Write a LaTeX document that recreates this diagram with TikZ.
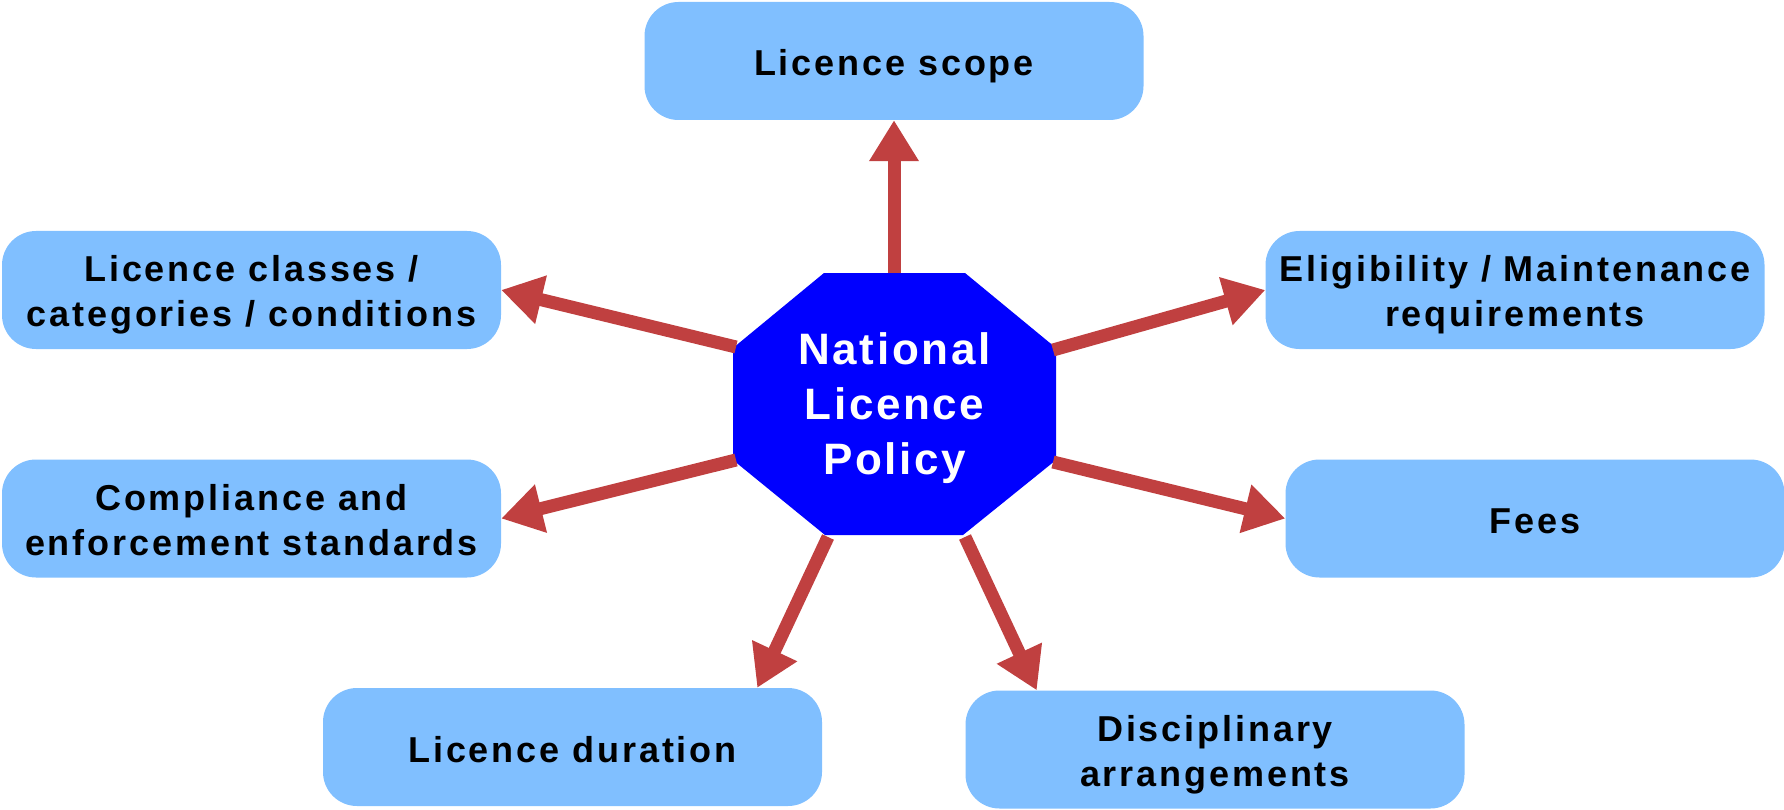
\documentclass[tikz,border=0pt]{standalone}
\usepackage{fontspec}
\newfontfamily\boxfont{Liberation Sans}[LetterSpace=8]
\newfontfamily\octfont{Liberation Sans}[LetterSpace=6]
\usetikzlibrary{arrows.meta,calc}
\definecolor{boxblue}{RGB}{128,191,255}
\definecolor{octblue}{RGB}{0,0,255}
\definecolor{arrred}{RGB}{192,64,64}
\begin{document}
\begin{tikzpicture}[x=1pt,y=-1pt,
  topic/.style={fill=boxblue, rounded corners=34pt, minimum width=499pt,
    minimum height=118pt, inner sep=0pt, align=center,
    font=\boxfont\bfseries\fontsize{36}{45}\selectfont, text=black,
    text height=38pt, text depth=8pt},
  topictwo/.style={topic, text height=81pt},
  centre/.style={inner sep=0pt, align=center,
    font=\octfont\bfseries\fontsize{44}{55}\selectfont, text=white,
    text height=150pt, text depth=10pt},
  link/.style={draw=arrred, line width=13pt, -{Triangle[length=41pt,width=47pt]}}]
\useasboundingbox (0,0) rectangle (1784,810);

% topic boxes
\node[topic]    (scope)   at (894,61)      {Licence scope};
\node[topictwo] (classes) at (251.5,290)   {Licence classes /\\categories / conditions};
\node[topictwo] (elig)    at (1515,290)    {Eligibility / Maintenance\\requirements};
\node[topictwo] (compl)   at (251.5,518.5) {Compliance and\\enforcement standards};
\node[topic]    (fees)    at (1535,518.5)  {Fees};
\node[topic]    (dur)     at (572.5,747)   {Licence duration};
\node[topictwo] (disc)    at (1215,749.5)  {Disciplinary\\arrangements};

% central octagon
\fill[octblue] (824,273) -- (965,273) -- (1056,348) -- (1056,460) -- (963,535)
  -- (825,535) -- (733,460) -- (733,348) -- cycle;
\node[centre] (npl) at (894.5,404) {National\\Licence\\Policy};

% arrow start points on the octagon
\coordinate (sTop) at (894,273);
\coordinate (sUL)  at (736,347);
\coordinate (sLL)  at (736,460);
\coordinate (sUR)  at (1053,350);
\coordinate (sLR)  at (1053,462);
\coordinate (sBL)  at (828,537);
\coordinate (sBR)  at (965,537);
% arrow tips on the bottom boxes
\coordinate (tDur)  at ($(dur.north west)!0.87!(dur.north east)$);
\coordinate (tDisc) at ($(disc.north west)!0.143!(disc.north east)$);

\draw[link] (sTop) -- (scope.south);
\draw[link] (sUL)  -- (classes.east);
\draw[link] (sLL)  -- (compl.east);
\draw[link] (sUR)  -- (elig.west);
\draw[link] (sLR)  -- (fees.west);
\draw[link] (sBL)  -- (tDur);
\draw[link] (sBR)  -- (tDisc);
\end{tikzpicture}
\end{document}
